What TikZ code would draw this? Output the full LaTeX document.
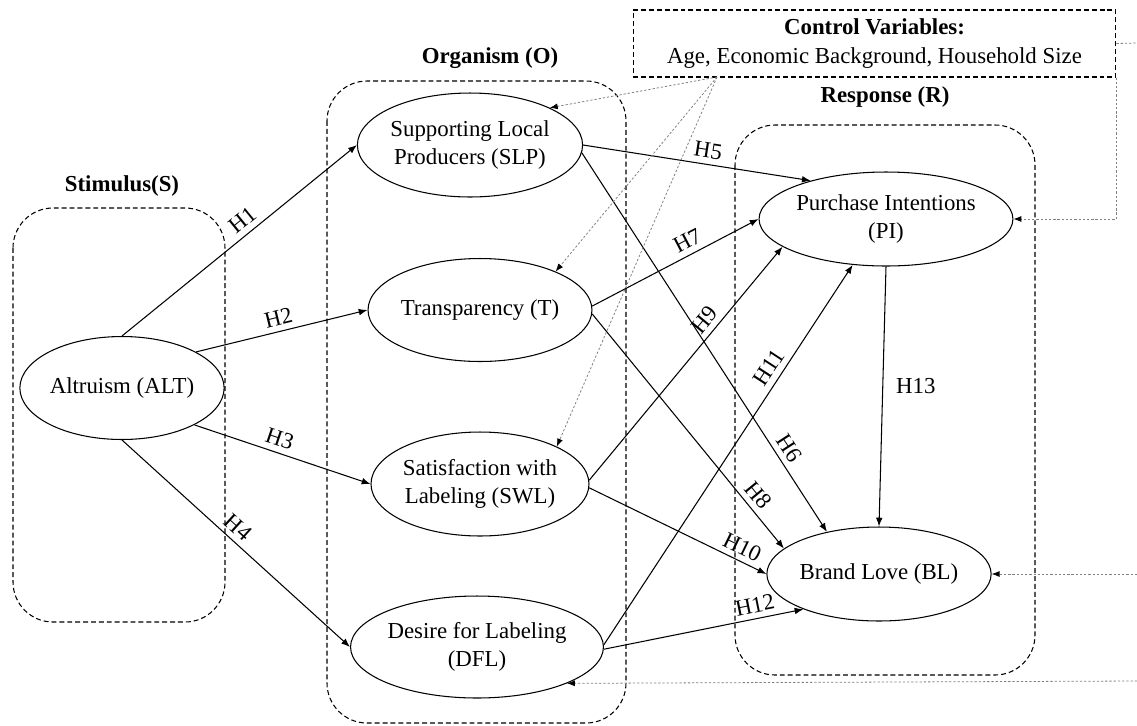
\documentclass[tikz,border=0pt]{standalone}
\usepackage{fontspec}
\setmainfont{Liberation Serif}
\usetikzlibrary{shapes.geometric,arrows.meta}
\begin{document}
\begin{tikzpicture}[x=0.02cm,y=-0.02cm,
  font=\fontsize{13}{16.2}\selectfont,
  var/.style={draw, ellipse, line width=0.6pt, inner sep=0pt, align=center},
  grp/.style={draw, line width=0.6pt, dash pattern=on 2.8pt off 1.7pt, rounded corners=0.8cm},
  hyp/.style={line width=0.6pt, -{Latex[length=5pt,width=3.8pt]}},
  ctlline/.style={draw=gray, line width=0.45pt, dash pattern=on 1.3pt off 1.1pt},
  ctl/.style={ctlline, -{Latex[length=4.5pt,width=3.4pt,color=black]}},
  hl/.style={sloped, above, inner sep=3.2pt},
  ttl/.style={font=\fontsize{13}{16.2}\selectfont\bfseries}
]
\useasboundingbox (0,0) rectangle (1137,725);

% group boxes
\draw[grp] (13,208) rectangle (225,622);
\draw[grp] (327,81) rectangle (626,723);
\draw[grp] (735,125) rectangle (1035,675);

% titles
\node[ttl] (tS) at (122,186) {Stimulus(S)};
\node[ttl] (tO) at (490,58) {Organism (O)};
\node[ttl] (tR) at (885,97) {Response (R)};

% control box
\node[draw, line width=0.6pt, dash pattern=on 2.8pt off 1.7pt, minimum width=9.66cm, minimum height=1.34cm, align=center, inner sep=0pt] (ctrl) at (874.5,43.5)
  {\textbf{Control Variables:}\\Age, Economic Background, Household Size};

% variables
\node[var, minimum width=3.9cm, minimum height=2.06cm] (ALT) at (122,388) {Altruism (ALT)};
\node[var, minimum width=4.12cm, minimum height=2.08cm] (SLP) at (470,145) {Supporting Local\\Producers (SLP)};
\node[var, minimum width=4.12cm, minimum height=2.06cm] (T) at (480,310) {Transparency (T)};
\node[var, minimum width=4.12cm, minimum height=2.08cm] (SWL) at (480,484) {Satisfaction with\\Labeling (SWL)};
\node[var, minimum width=4.12cm, minimum height=2.04cm] (DFL) at (477,647) {Desire for Labeling\\(DFL)};
\node[var, minimum width=3.94cm, minimum height=1.88cm] (PI) at (886,219) {Purchase Intentions\\(PI)};
\node[var, minimum width=3.82cm, minimum height=1.88cm] (BL) at (879,574) {Brand Love (BL)};

% hypotheses
\draw[hyp] (ALT.north) -- node[hl,pos=0.55]{H1} (SLP.west);
\draw[hyp] (ALT.26.6) -- node[hl,pos=0.50]{H2} (T.west);
\draw[hyp] (ALT.-27.9) -- node[hl,pos=0.46]{H3} (SWL.west);
\draw[hyp] (ALT.south) -- node[hl,pos=0.47]{H4} (DFL.west);
\draw[hyp] (SLP.east) -- node[hl,pos=0.54]{H5} (PI.153);
\draw[hyp] (SLP.-4) -- node[hl,pos=0.80]{H6} (BL.141.7);
\draw[hyp] (T.2) -- node[hl,pos=0.61]{H7} (PI.west);
\draw[hyp] (T.-2) -- node[hl,pos=0.81]{H8} (BL.165.3);
\draw[hyp] (SWL.2) -- node[hl,pos=0.65]{H9} (PI.195.5);
\draw[hyp] (SWL.-2) -- node[hl,pos=0.83]{H10} (BL.west);
\draw[hyp] (DFL.1) -- node[hl,pos=0.71]{H11} (PI.234.7);
\draw[hyp] (DFL.-1) -- node[hl,pos=0.77]{H12} (BL.205.9);
\draw[hyp] (PI.south) -- node[right=4pt,pos=0.46]{H13} (BL.north);

% control variable links
\coordinate (cs) at (717,77);
\coordinate (e1) at (1137,43);
\coordinate (e2) at (1137,574);
\coordinate (e3) at (1137,681);
\draw[ctl] (cs) -- (SLP.25.6);
\draw[ctl] (cs) -- (T.27.5);
\draw[ctl] (cs) -- (SWL.26.9);
\draw[ctl] (ctrl.south east) |- (PI.east);
\draw[ctlline] (ctrl.east) -- (e1);
\draw[ctl] (e2) -- (BL.east);
\draw[ctl] (e3) -- (DFL.-22.8);
\end{tikzpicture}
\end{document}
